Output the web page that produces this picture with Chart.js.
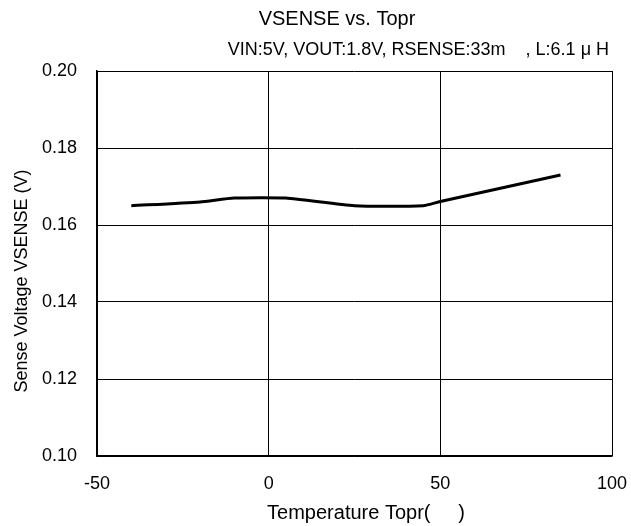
<!DOCTYPE html>
<html>
<head>
<meta charset="utf-8">
<script src="https://cdn.jsdelivr.net/npm/chart.js@4/dist/chart.umd.min.js"></script>
<style>
  html, body { margin: 0; padding: 0; background: #fff; }
  #wrap { width: 631px; height: 526px; }
</style>
</head>
<body>
<div id="wrap"><canvas id="vsenseChart" width="631" height="526"></canvas></div>
<script>
// temperatures (°C) and sense voltage (V)
const temps = [-40, -20, -10, 5, 25, 45, 50, 85];
const vsense = [0.165, 0.166, 0.167, 0.167, 0.165, 0.165, 0.1661, 0.173];
const xTicks = [-50, 0, 50, 100];
const yTicks = [0.10, 0.12, 0.14, 0.16, 0.18, 0.20];

const titleLines = ['VSENSE vs. Topr', 'VIN:5V, VOUT:1.8V, RSENSE:33m    , L:6.1 \u03bc H'];
const xTitle = 'Temperature Topr(     )';
const yTitle = 'Sense Voltage VSENSE (V)';
const FONT = '"Liberation Sans", Arial, sans-serif';

// titles are placed by hand: the original puts them off-centre
const textPlugin = {
  id: 'texts',
  afterDraw(chart) {
    const ctx = chart.ctx;
    ctx.save();
    ctx.fillStyle = '#000';
    ctx.textBaseline = 'alphabetic';

    ctx.font = '20px ' + FONT;
    ctx.textAlign = 'center';
    ctx.fillText(titleLines[0], 337, 25);

    ctx.font = '18px ' + FONT;
    ctx.textAlign = 'right';
    ctx.fillText(titleLines[1], 609, 55);

    ctx.font = '20px ' + FONT;
    ctx.textAlign = 'center';
    ctx.fillText(xTitle, 366, 519);

    ctx.font = '18px ' + FONT;
    ctx.translate(27, 281);
    ctx.rotate(-Math.PI / 2);
    ctx.fillText(yTitle, 0, 0);
    ctx.restore();
  }
};

const ctx = document.getElementById('vsenseChart').getContext('2d');
new Chart(ctx, {
  type: 'line',
  data: {
    datasets: [{
      data: temps.map((t, i) => ({ x: t, y: vsense[i] })),
      borderColor: '#000',
      borderWidth: 3,
      pointRadius: 0,
      tension: 0.2,
      fill: false
    }]
  },
  options: {
    responsive: false,
    animation: false,
    layout: { padding: { top: 71, right: 19, left: 0, bottom: 0 } },
    plugins: { legend: { display: false }, tooltip: { enabled: false } },
    scales: {
      x: {
        type: 'linear',
        min: -50, max: 100,
        afterBuildTicks(scale) { scale.ticks = xTicks.map(v => ({ value: v })); },
        afterFit(scale) {
          scale.height = 70;
          scale.paddingLeft = 0;
          scale.paddingRight = 0;
        },
        grid: { color: '#000', lineWidth: 1, drawTicks: false },
        border: { color: '#000', width: 1.5 },
        ticks: { color: '#000', font: { family: FONT, size: 18 }, padding: 17, maxRotation: 0 }
      },
      y: {
        min: 0.10, max: 0.20,
        afterBuildTicks(scale) { scale.ticks = yTicks.map(v => ({ value: v })); },
        afterFit(scale) {
          scale.width = 97;
          scale.paddingTop = 0;
          scale.paddingBottom = 0;
        },
        grid: { color: '#000', lineWidth: 1, drawTicks: false },
        border: { color: '#000', width: 1.5 },
        ticks: {
          color: '#000', font: { family: FONT, size: 18 }, padding: 20,
          callback: v => v.toFixed(2)
        }
      }
    }
  },
  plugins: [textPlugin]
});
</script>
</body>
</html>
